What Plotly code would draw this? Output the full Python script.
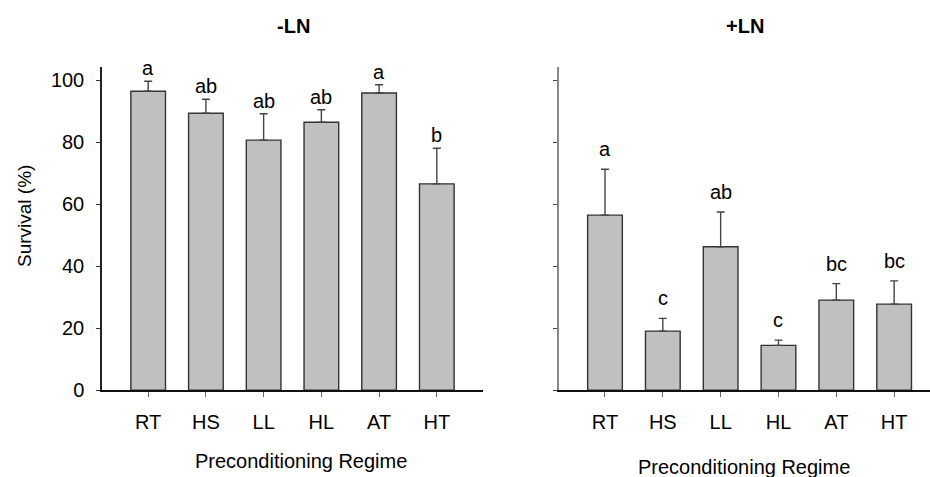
import plotly.graph_objects as go

categories = ["RT", "HS", "LL", "HL", "AT", "HT"]

minus_ln_mean = [96.5, 89.4, 80.7, 86.5, 95.9, 66.6]
minus_ln_err = [3.2, 4.5, 8.5, 4.0, 2.7, 11.5]
minus_ln_letters = ["a", "ab", "ab", "ab", "a", "b"]

plus_ln_mean = [56.5, 19.1, 46.3, 14.5, 29.1, 27.8]
plus_ln_err = [14.8, 4.1, 11.2, 1.7, 5.3, 7.5]
plus_ln_letters = ["a", "c", "ab", "c", "bc", "bc"]

panel_titles = ["-LN", "+LN"]
y_title = "Survival (%)"
x_title = "Preconditioning Regime"
y_ticks = [0, 20, 40, 60, 80, 100]

FONT = "Liberation Sans, Arial, sans-serif"
W, H = 930, 477

fig = go.Figure()

panels = [
    (minus_ln_mean, minus_ln_err, minus_ln_letters, "x", "y"),
    (plus_ln_mean, plus_ln_err, plus_ln_letters, "x2", "y2"),
]

for mean, err, letters, xa, ya in panels:
    fig.add_trace(go.Bar(
        x=categories, y=mean, xaxis=xa, yaxis=ya, width=0.6,
        marker=dict(color="#c0c0c0", line=dict(color="#333333", width=1.4)),
        error_y=dict(type="data", symmetric=False, array=err,
                     arrayminus=[0] * len(err), color="#444444",
                     thickness=1.4, width=4),
        showlegend=False, hoverinfo="skip",
    ))

annotations = []
for (mean, err, letters, xa, ya), shift in zip(panels, [0, 7]):
    for c, m, e, t in zip(categories, mean, err, letters):
        annotations.append(dict(
            x=c, y=m + e, xref=xa, yref=ya, text=t, showarrow=False,
            yanchor="bottom", yshift=shift,
            font=dict(family=FONT, size=20, color="#000000"),
        ))

# panel titles
annotations.append(dict(x=293 / W, y=1 - 26 / H, xref="paper", yref="paper",
                        text="<b>" + panel_titles[0] + "</b>", showarrow=False,
                        xanchor="center", yanchor="middle",
                        font=dict(family=FONT, size=20, color="#000000")))
annotations.append(dict(x=745 / W, y=1 - 26 / H, xref="paper", yref="paper",
                        text="<b>" + panel_titles[1] + "</b>", showarrow=False,
                        xanchor="center", yanchor="middle",
                        font=dict(family=FONT, size=20, color="#000000")))
# axis titles
annotations.append(dict(x=24 / W, y=1 - 216 / H, xref="paper", yref="paper",
                        text=y_title, showarrow=False, textangle=-90,
                        xanchor="center", yanchor="middle",
                        font=dict(family=FONT, size=19, color="#000000")))
annotations.append(dict(x=301 / W, y=1 - 461 / H, xref="paper", yref="paper",
                        text=x_title, showarrow=False,
                        xanchor="center", yanchor="middle",
                        font=dict(family=FONT, size=20, color="#000000")))
annotations.append(dict(x=744 / W, y=1 - 467 / H, xref="paper", yref="paper",
                        text=x_title, showarrow=False,
                        xanchor="center", yanchor="middle",
                        font=dict(family=FONT, size=20, color="#000000")))

ydom = [(H - 390.3) / H, (H - 66.7) / H]
yrange = [0, 104.4]

xcommon = dict(showline=True, linecolor="#111111", linewidth=1.6,
               ticks="outside", ticklen=5, tickcolor="#666666", tickwidth=1.4,
               showgrid=False, zeroline=False, ticklabelstandoff=8,
               automargin=False,
               tickfont=dict(family=FONT, size=20, color="#000000"))

fig.update_layout(
    width=W, height=H,
    margin=dict(l=0, r=0, t=0, b=0, pad=0),
    paper_bgcolor="white", plot_bgcolor="white",
    bargap=0.4,
    xaxis=dict(domain=[102 / W, 483 / W], range=[-0.8, 5.8], anchor="y",
               **xcommon),
    xaxis2=dict(domain=[559.3 / W, 1.0], range=[-0.79, 5.62], anchor="y2",
                **xcommon),
    yaxis=dict(domain=ydom, range=yrange, anchor="x", showline=True,
               linecolor="#222222", linewidth=1.5, ticks="outside", ticklen=4,
               tickcolor="#333333", tickwidth=1.3, tickvals=y_ticks,
               showgrid=False, zeroline=False, ticklabelstandoff=8,
               automargin=False,
               tickfont=dict(family=FONT, size=20, color="#000000")),
    yaxis2=dict(domain=ydom, range=yrange, anchor="x2", showline=True,
                linecolor="#888888", linewidth=2, ticks="outside", ticklen=4,
                tickcolor="#444444", tickwidth=1.3, tickvals=y_ticks,
                showticklabels=False, showgrid=False, zeroline=False,
                automargin=False),
    annotations=annotations,
)

fig.write_html("out.html")
